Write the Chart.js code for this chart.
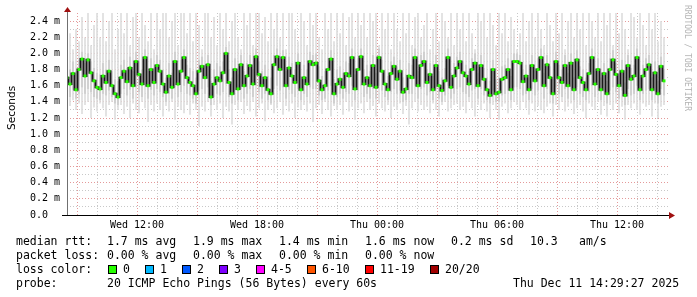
<!DOCTYPE html>
<html>
<head>
<meta charset="utf-8">
<script src="https://cdn.jsdelivr.net/npm/chart.js@4.4.1/dist/chart.umd.min.js"></script>
<style>
  html, body { margin: 0; padding: 0; background: #fff; }
  #wrap { position: relative; width: 697px; height: 297px; overflow: hidden; }
  #chart { position: absolute; left: 0; top: 0; }
  .t { position: absolute; font-family: "DejaVu Sans Mono", monospace; font-size: 11.5px; line-height: 14px; color: #000; white-space: pre; }
  .sw { position: absolute; top: 265px; width: 9px; height: 9px; border: 1px solid #000; box-sizing: border-box; }
  #ylab { position: absolute; left: 4px; top: 130px; font-family: "DejaVu Sans", sans-serif; font-size: 10.5px; line-height: 14px;
          transform: rotate(-90deg); transform-origin: left top; white-space: pre; }
  #rrd { position: absolute; left: 692px; top: 5px; font-family: "DejaVu Sans Mono", monospace; font-size: 8px; line-height: 10px;
         color: #b4b4b4; transform: rotate(90deg); transform-origin: left top; white-space: pre; }
</style>
</head>
<body>
<div id="wrap">
  <canvas id="chart" width="697" height="297"></canvas>
  <div id="ylab">Seconds</div>
  <div id="rrd">RRDTOOL / TOBI OETIKER</div>
  <div id="legend"></div>
</div>
<script>
// time grid: one sample every 9 minutes, starting Wed 08:30 (hours since Wed 00:00)
const startHour = 8.5;
const stepHours = 0.15;

// median rtt (ms)
const median = [
  1.70,1.62,1.75,1.55,1.80,1.93,1.72,1.92,1.76,1.66,
  1.58,1.56,1.72,1.64,1.78,1.60,1.50,1.46,1.70,1.78,
  1.65,1.82,1.60,1.90,1.74,1.62,1.95,1.60,1.80,1.64,
  1.85,1.78,1.62,1.52,1.72,1.58,1.90,1.62,1.78,1.95,
  1.70,1.64,1.60,1.50,1.78,1.84,1.70,1.86,1.46,1.62,
  1.70,1.66,1.76,2.00,1.64,1.50,1.80,1.56,1.86,1.60,
  1.72,1.85,1.62,1.96,1.74,1.60,1.70,1.55,1.50,1.86,
  1.96,1.80,1.95,1.60,1.82,1.72,1.64,1.88,1.55,1.70,
  1.62,1.90,1.86,1.88,1.66,1.55,1.60,1.80,1.93,1.50,
  1.62,1.68,1.58,1.75,1.72,1.95,1.56,1.80,1.96,1.62,
  1.70,1.60,1.85,1.58,1.95,1.78,1.62,1.55,1.75,1.84,
  1.68,1.78,1.52,1.56,1.72,1.70,1.95,1.60,1.85,1.90,
  1.64,1.74,1.55,1.85,1.60,1.54,1.66,1.95,1.58,1.72,
  1.82,1.90,1.76,1.72,1.62,1.80,1.88,1.60,1.85,1.68,
  1.55,1.48,1.80,1.50,1.52,1.68,1.70,1.80,1.55,1.90,
  1.90,1.88,1.65,1.72,1.55,1.85,1.66,1.80,1.95,1.60,
  1.86,1.70,1.50,1.90,1.70,1.64,1.85,1.60,1.88,1.55,
  1.92,1.70,1.64,1.55,1.75,1.95,1.62,1.80,1.55,1.75,
  1.50,1.80,1.92,1.74,1.60,1.78,1.48,1.85,1.68,1.72,
  1.95,1.55,1.72,1.80,1.86,1.55,1.76,1.50,1.84,1.66
];

// smoke: slowest / fastest ping of each round (ms)
const smokeHi = [
  2.10,2.25,2.05,2.30,2.15,2.45,2.20,2.50,2.10,2.35,
  2.50,2.20,2.50,2.15,2.40,2.50,2.05,2.30,2.50,2.25,
  2.50,2.10,2.45,2.50,2.20,2.50,2.35,2.15,2.50,2.05,
  2.50,2.30,2.50,2.50,2.20,2.40,2.50,2.10,2.50,2.50,
  2.25,2.50,2.15,2.50,2.35,2.05,2.50,2.50,2.20,2.45,
  2.10,2.50,2.30,2.50,2.15,2.40,2.50,2.20,2.05,2.50,
  2.35,2.50,2.10,2.50,2.50,2.25,2.45,2.15,2.50,2.30,
  2.50,2.20,2.50,2.05,2.50,2.50,2.30,2.15,2.50,2.40,
  2.10,2.50,2.35,2.50,2.20,2.05,2.50,2.30,2.50,2.15,
  2.50,2.25,2.50,2.10,2.45,2.50,2.20,2.50,2.35,2.50,
  2.20,2.50,2.40,2.50,2.10,2.50,2.30,2.50,2.05,2.50,
  2.30,2.15,2.50,2.25,2.50,2.10,2.45,2.50,2.20,2.35,
  2.50,2.05,2.30,2.50,2.15,2.50,2.40,2.20,2.50,2.10,
  2.50,2.30,2.50,2.15,2.50,2.25,2.05,2.50,2.40,2.50,
  2.20,2.50,2.35,2.10,2.50,2.25,2.50,2.15,2.45,2.30,
  2.05,2.25,2.50,2.15,2.40,2.50,2.20,2.50,2.30,2.10,
  2.50,2.35,2.15,2.50,2.25,2.50,2.05,2.40,2.50,2.20,
  2.50,2.30,2.50,2.10,2.50,2.40,2.20,2.50,2.15,2.50,
  2.35,2.50,2.10,2.50,2.25,2.50,2.30,2.05,2.50,2.45,
  2.20,2.50,2.35,2.10,2.50,2.30,2.50,2.15,2.40,2.20
];
const smokeLo = [
  1.40,1.35,1.42,1.30,1.38,1.25,1.36,1.40,1.20,1.33,
  1.28,1.38,1.32,1.22,1.36,1.40,1.18,1.30,1.36,1.25,
  1.34,1.20,1.38,1.30,1.26,1.40,1.32,1.15,1.36,1.28,
  1.38,1.30,1.22,1.35,1.28,1.40,1.18,1.34,1.30,1.26,
  1.36,1.24,1.38,1.30,1.10,1.34,1.28,1.40,1.22,1.36,
  1.30,1.38,1.20,1.34,1.28,1.12,1.36,1.30,1.40,1.25,
  1.35,1.28,1.40,1.22,1.32,1.38,1.16,1.30,1.36,1.26,
  1.32,1.40,1.24,1.35,1.28,1.38,1.20,1.33,1.30,1.36,
  1.28,1.38,1.15,1.32,1.36,1.25,1.40,1.30,1.22,1.35,
  1.30,1.36,1.24,1.40,1.28,1.34,1.18,1.32,1.38,1.26,
  1.40,1.30,1.35,1.22,1.38,1.32,1.28,1.36,1.20,1.34,
  1.30,1.38,1.25,1.35,1.12,1.32,1.40,1.28,1.36,1.30,
  1.34,1.26,1.38,1.30,1.22,1.36,1.40,1.28,1.32,1.36,
  1.38,1.30,1.34,1.26,1.40,1.32,1.22,1.36,1.30,1.38,
  1.28,1.20,1.36,1.30,1.18,1.34,1.38,1.26,1.32,1.40,
  1.36,1.30,1.40,1.32,1.24,1.38,1.28,1.35,1.30,1.26,
  1.34,1.38,1.22,1.36,1.30,1.40,1.28,1.34,1.38,1.25,
  1.32,1.36,1.28,1.20,1.38,1.34,1.30,1.40,1.24,1.35,
  1.22,1.36,1.30,1.38,1.26,1.34,1.18,1.36,1.32,1.38,
  1.30,1.24,1.38,1.34,1.36,1.22,1.38,1.20,1.34,1.36
];
// denser smoke: where most of the 20 pings sit (ms)
const innerLo = [
  1.52,1.46,1.55,1.44,1.50,1.58,1.50,1.56,1.52,1.46,
  1.44,1.42,1.50,1.48,1.54,1.46,1.38,1.36,1.50,1.56,
  1.48,1.55,1.44,1.58,1.52,1.46,1.60,1.44,1.55,1.48,
  1.56,1.52,1.46,1.40,1.50,1.44,1.58,1.46,1.52,1.60,
  1.50,1.48,1.44,1.38,1.54,1.56,1.50,1.58,1.36,1.46,
  1.50,1.48,1.52,1.62,1.46,1.38,1.54,1.42,1.56,1.44,
  1.50,1.56,1.46,1.60,1.52,1.44,1.50,1.42,1.38,1.56,
  1.60,1.54,1.58,1.44,1.55,1.50,1.46,1.56,1.42,1.50,
  1.46,1.58,1.56,1.56,1.48,1.42,1.44,1.54,1.60,1.38,
  1.46,1.50,1.44,1.52,1.50,1.60,1.42,1.54,1.60,1.46,
  1.50,1.44,1.56,1.44,1.60,1.54,1.46,1.42,1.52,1.56,
  1.50,1.54,1.40,1.42,1.50,1.50,1.60,1.44,1.56,1.58,
  1.48,1.52,1.42,1.56,1.44,1.40,1.48,1.60,1.44,1.50,
  1.56,1.58,1.52,1.50,1.46,1.54,1.56,1.44,1.56,1.48,
  1.42,1.38,1.54,1.40,1.40,1.48,1.50,1.54,1.42,1.58,
  1.58,1.56,1.48,1.50,1.42,1.56,1.48,1.54,1.60,1.44,
  1.56,1.50,1.38,1.58,1.50,1.46,1.56,1.44,1.56,1.42,
  1.58,1.50,1.46,1.42,1.52,1.60,1.46,1.54,1.42,1.52,
  1.38,1.54,1.58,1.52,1.44,1.54,1.36,1.56,1.48,1.50,
  1.60,1.42,1.50,1.54,1.56,1.42,1.52,1.38,1.56,1.48
];
const innerHi = [
  1.85,1.80,1.90,1.78,1.92,2.02,1.88,2.00,1.90,1.82,
  1.76,1.74,1.88,1.80,1.92,1.78,1.68,1.66,1.86,1.92,
  1.82,1.96,1.78,2.02,1.90,1.80,2.05,1.78,1.94,1.82,
  1.98,1.92,1.80,1.70,1.88,1.76,2.02,1.80,1.92,2.05,
  1.86,1.82,1.78,1.70,1.92,1.96,1.86,1.98,1.66,1.80,
  1.88,1.84,1.90,2.08,1.80,1.70,1.94,1.74,1.98,1.78,
  1.88,1.98,1.80,2.06,1.90,1.78,1.86,1.72,1.70,1.98,
  2.06,1.94,2.04,1.78,1.96,1.88,1.80,2.00,1.72,1.86,
  1.80,2.02,1.98,2.00,1.84,1.72,1.78,1.94,2.04,1.68,
  1.80,1.84,1.76,1.90,1.88,2.06,1.74,1.94,2.06,1.80,
  1.86,1.78,1.98,1.76,2.06,1.92,1.80,1.72,1.90,1.96,
  1.84,1.92,1.70,1.74,1.88,1.86,2.06,1.78,1.98,2.02,
  1.80,1.88,1.72,1.98,1.78,1.70,1.82,2.06,1.76,1.88,
  1.96,2.02,1.90,1.86,1.78,1.94,2.00,1.76,1.98,1.82,
  1.70,1.66,1.92,1.68,1.70,1.84,1.86,1.94,1.72,2.00,
  2.00,1.98,1.80,1.86,1.70,1.98,1.82,1.94,2.06,1.76,
  1.98,1.84,1.68,2.02,1.86,1.80,1.98,1.76,2.00,1.70,
  2.04,1.84,1.80,1.70,1.88,2.06,1.78,1.94,1.70,1.88,
  1.66,1.94,2.04,1.88,1.76,1.92,1.64,1.98,1.82,1.86,
  2.06,1.70,1.86,1.94,1.98,1.70,1.90,1.66,1.96,1.80
];

// axis labels
const xTickHours = [12, 18, 24, 30, 36];
const xTickLabels = ['Wed 12:00', 'Wed 18:00', 'Thu 00:00', 'Thu 06:00', 'Thu 12:00'];
const yTickValues = [0, 0.2, 0.4, 0.6, 0.8, 1.0, 1.2, 1.4, 1.6, 1.8, 2.0, 2.2, 2.4];
const yTickLabels = ['0.0  ', '0.2 m', '0.4 m', '0.6 m', '0.8 m', '1.0 m', '1.2 m', '1.4 m', '1.6 m', '1.8 m', '2.0 m', '2.2 m', '2.4 m'];

// legend text
const statsRows = [
  ['median rtt:', '1.7 ms avg', '1.9 ms max', '1.4 ms min', '1.6 ms now', '0.2 ms sd', '10.3', 'am/s'],
  ['packet loss:', '0.00 % avg', '0.00 % max', '0.00 % min', '0.00 % now']
];
const lossLabels = ['0', '1', '2', '3', '4-5', '6-10', '11-19', '20/20'];
const lossColors = ['#26ff00', '#00b8ff', '#0059ff', '#7e00ff', '#ff00ff', '#ff5500', '#ff0000', '#a10000'];
const probeText = '20 ICMP Echo Pings (56 Bytes) every 60s';
const stampText = 'Thu Dec 11 14:29:27 2025';

const times = median.map((_, i) => startHour + i * stepHours);

const legend = document.getElementById('legend');
function addText(txt, x, y) {
  const d = document.createElement('div');
  d.className = 't';
  d.style.left = x + 'px';
  d.style.top = y + 'px';
  d.textContent = txt;
  legend.appendChild(d);
}
const statCols = [16, 107, 193, 279, 365, 451, 530, 579];
statsRows.forEach((row, r) => row.forEach((s, c) => addText(s, statCols[c], 234 + r * 14)));
addText('loss color:', 16, 262);
const swatchX = [108, 145, 182, 219, 256, 307, 365, 430];
lossLabels.forEach((lab, i) => {
  const sq = document.createElement('div');
  sq.className = 'sw';
  sq.style.left = swatchX[i] + 'px';
  sq.style.background = lossColors[i];
  legend.appendChild(sq);
  addText(lab, swatchX[i] + 15, 262);
});
addText('probe:', 16, 276);
addText(probeText, 107, 276);
addText(stampText, 513, 276);

const axisArrows = {
  id: 'axisArrows',
  afterDatasetsDraw(chart) {
    const { ctx, chartArea: a } = chart;
    ctx.save();
    ctx.lineWidth = 1;
    ctx.strokeStyle = '#707070';
    ctx.beginPath();
    ctx.moveTo(a.left + 0.5, a.bottom + 0.5);
    ctx.lineTo(a.left + 0.5, a.top - 3);
    ctx.stroke();
    ctx.strokeStyle = '#000';
    ctx.beginPath();
    ctx.moveTo(a.left - 5, a.bottom + 0.5);
    ctx.lineTo(a.right, a.bottom + 0.5);
    ctx.stroke();
    ctx.fillStyle = '#a01010';
    ctx.beginPath();
    ctx.moveTo(a.left + 0.5, a.top - 6);
    ctx.lineTo(a.left - 3, a.top - 1);
    ctx.lineTo(a.left + 4, a.top - 1);
    ctx.closePath();
    ctx.fill();
    ctx.beginPath();
    ctx.moveTo(a.right + 5, a.bottom + 0.5);
    ctx.lineTo(a.right - 1, a.bottom - 3);
    ctx.lineTo(a.right - 1, a.bottom + 4);
    ctx.closePath();
    ctx.fill();
    ctx.restore();
  }
};

new Chart(document.getElementById('chart'), {
  type: 'bar',
  data: {
    datasets: [
      {
        type: 'line',
        label: 'median',
        data: median.map((v, i) => ({ x: times[i], y: v })),
        borderColor: '#181818',
        borderWidth: 2,
        stepped: 'middle',
        pointStyle: 'rect',
        pointRadius: 2.1,
        pointBorderWidth: 0,
        pointBackgroundColor: lossColors[0],
        order: 1
      },
      {
        label: 'inner smoke',
        data: innerLo.map((v, i) => ({ x: times[i], y: [v, innerHi[i]] })),
        backgroundColor: '#d0d0d0',
        borderWidth: 0,
        grouped: false,
        barPercentage: 0.7,
        categoryPercentage: 1,
        order: 2
      },
      {
        label: 'smoke',
        data: smokeLo.map((v, i) => ({ x: times[i], y: [v, smokeHi[i]] })),
        backgroundColor: '#dedede',
        borderWidth: 0,
        grouped: false,
        barPercentage: 0.55,
        categoryPercentage: 1,
        order: 3
      }
    ]
  },
  options: {
    responsive: false,
    animation: false,
    devicePixelRatio: 1,
    layout: { padding: { left: 0, top: 13, right: 27, bottom: 65 } },
    plugins: { legend: { display: false }, tooltip: { enabled: false } },
    scales: {
      x: {
        type: 'linear',
        offset: false,
        min: 8.5,
        max: 38.65,
        afterBuildTicks: s => {
          const t = [];
          for (let h = 9; h <= 38; h++) t.push({ value: h });
          s.ticks = t;
        },
        afterFit: s => { s.height = 17; },
        ticks: {
          autoSkip: false,
          maxRotation: 0,
          padding: 4,
          color: '#000',
          font: { family: 'DejaVu Sans Mono', size: 10 },
          callback: v => {
            const k = xTickHours.indexOf(v);
            return k >= 0 ? xTickLabels[k] : '';
          }
        },
        grid: {
          offset: false,
          drawTicks: false,
          color: c => (c.tick && c.tick.value % 3 === 0) ? '#e49a9a' : '#c8c8c8'
        },
        border: { display: false, dash: [1, 2] }
      },
      y: {
        type: 'linear',
        min: 0,
        max: 2.5,
        afterBuildTicks: s => {
          const t = [];
          for (let k = 0; k <= 24; k++) t.push({ value: k / 10 });
          s.ticks = t;
        },
        afterFit: s => { s.width = 67; },
        ticks: {
          autoSkip: false,
          padding: 7,
          color: '#000',
          font: { family: 'DejaVu Sans Mono', size: 10 },
          callback: v => {
            const k = yTickValues.findIndex(y => Math.abs(y - v) < 1e-6);
            return k >= 0 ? yTickLabels[k] : '';
          }
        },
        grid: {
          drawTicks: false,
          color: c => {
            if (!c.tick || c.tick.value === 0) return 'rgba(0,0,0,0)';
            return Math.round(c.tick.value * 10) % 2 === 0 ? '#e49a9a' : '#c8c8c8';
          }
        },
        border: { display: false, dash: [1, 2] }
      }
    }
  },
  plugins: [axisArrows]
});
</script>
</body>
</html>
